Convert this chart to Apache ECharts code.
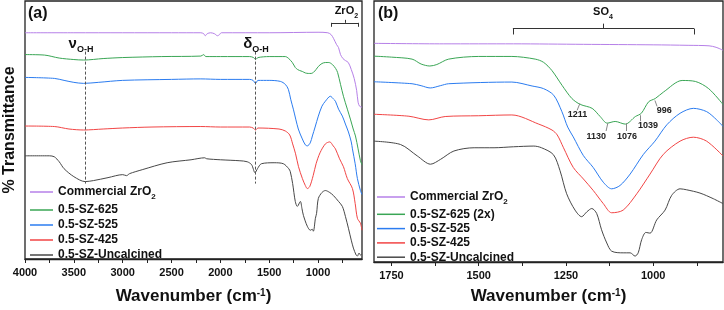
<!DOCTYPE html>
<html>
<head>
<meta charset="utf-8">
<title>FTIR spectra</title>
<script src="https://cdn.jsdelivr.net/npm/echarts@6/dist/echarts.min.js"></script>
<style>
  html, body { margin: 0; padding: 0; background: #fff; }
  #chart { width: 724px; height: 310px; }
</style>
</head>
<body>
<div id="chart"></div>
<script>
// [wavenumber (cm-1), transmittance (offset, arb. units)]
// panel (a): 4000 - 550 cm-1
const leftZrO2 = [[4000, 228], [3500, 228], [3000, 228], [2500, 228], [2200, 228], [2170, 227], [2155, 225], [2135, 227], [2100, 228], [2060, 227], [2030, 225], [2010, 226], [1990, 228], [1500, 228], [1000, 228.5], [900, 228], [865, 226], [840, 222], [810, 216], [790, 213], [770, 206], [745, 202], [720, 200], [690, 198], [660, 191], [630, 182], [605, 170], [590, 158], [575, 154], [550, 153]]
const left625 = [[4000, 206], [3800, 205.5], [3650, 202.5], [3500, 201], [3400, 200.5], [3200, 202], [3000, 203], [2600, 204], [2200, 204.5], [2170, 206], [2150, 204], [2000, 204], [1700, 204], [1660, 203], [1640, 201], [1615, 203], [1500, 204], [1400, 204], [1335, 204], [1300, 202], [1263, 198], [1233, 193], [1210, 191], [1190, 190], [1161, 189], [1130, 187.5], [1100, 187], [1070, 187], [1048, 188], [1020, 191], [997, 194], [960, 197], [925, 198], [890, 198], [853, 196], [820, 192], [800, 188], [770, 176], [740, 164], [700, 151], [669, 141], [640, 131], [617, 124], [590, 111], [566, 99], [550, 95]]
const left525 = [[4000, 183], [3700, 182], [3600, 180], [3500, 178], [3400, 177], [3250, 178], [3000, 180], [2500, 181], [2200, 181.5], [2000, 181], [1700, 181], [1665, 180], [1640, 177], [1615, 180], [1500, 180], [1386, 179], [1335, 176], [1304, 171], [1280, 161], [1253, 151], [1202, 131], [1161, 121], [1130, 115], [1110, 114], [1080, 117], [1058, 124], [1030, 133], [997, 144], [960, 154], [925, 159], [874, 164], [840, 161], [822, 159], [790, 151], [751, 144], [720, 136], [689, 128], [660, 118], [648, 111], [620, 96], [597, 81], [566, 69], [550, 65]]
const left425 = [[4000, 134], [3700, 133.5], [3550, 131], [3400, 130], [3200, 131], [3000, 132], [2700, 133], [2200, 133.5], [2000, 133], [1700, 133], [1665, 132], [1640, 130], [1615, 132], [1400, 131], [1335, 129], [1290, 125], [1260, 116], [1230, 106], [1200, 93], [1160, 81], [1130, 74], [1110, 71], [1085, 73], [1050, 84], [1020, 96], [980, 107], [925, 116], [880, 118], [845, 114], [822, 111], [780, 101], [740, 93], [700, 81], [648, 71], [620, 56], [597, 41], [566, 36], [550, 29]]
const leftUncal = [[4000, 104], [3750, 104], [3700, 103], [3650, 98], [3600, 91], [3500, 83], [3385, 78], [3300, 79], [3150, 82], [3000, 85], [2960, 84], [2930, 86], [2800, 90], [2545, 97], [2300, 100], [2160, 102], [2140, 101], [2000, 100], [1800, 99], [1725, 98], [1680, 95], [1645, 87], [1620, 91], [1580, 96], [1450, 97], [1355, 96], [1300, 91], [1284, 88], [1260, 76], [1233, 58], [1212, 53], [1181, 58], [1165, 51], [1150, 44], [1110, 33], [1079, 29], [1060, 30], [1048, 28], [1027, 41], [1015, 46], [997, 61], [960, 67], [925, 69], [880, 67], [843, 64], [790, 58], [751, 53], [720, 43], [689, 31], [660, 19], [638, 11], [610, 4], [597, 3], [580, 6], [566, 4], [550, 5]]

// panel (b): 1800 - 800 cm-1
const rightZrO2 = [[1800, 222], [1600, 221.5], [1400, 221.5], [1200, 221], [1000, 220.5], [900, 220], [840, 219.5], [820, 218], [800, 215]]
const right625 = [[1800, 209], [1750, 208], [1691, 206], [1665, 201], [1640, 199], [1620, 200.5], [1586, 206], [1500, 208.7], [1405, 208.7], [1338, 206], [1314, 202.7], [1290, 194.3], [1261, 179.3], [1233, 166], [1209, 160], [1175, 156], [1152, 147.7], [1132, 141], [1109, 142.7], [1080, 140], [1051, 147.7], [1034, 151], [1013, 162.7], [994, 166], [970, 172.7], [917, 184.3], [879, 183.3], [841, 176], [800, 160]]
const right525 = [[1800, 183], [1691, 181], [1665, 179], [1639, 176.7], [1610, 179], [1586, 181], [1405, 182.7], [1347, 178.7], [1314, 176], [1285, 169.3], [1262, 153], [1245, 137], [1229, 127], [1200, 108], [1172, 96], [1143, 81], [1119, 74.3], [1095, 77.7], [1066, 89.3], [1028, 109.3], [995, 122.7], [961, 139.3], [923, 151], [885, 156], [847, 152.7], [818, 144.3], [800, 137.7]]
const right425 = [[1800, 150], [1700, 148], [1643, 144.3], [1596, 147.7], [1500, 148.5], [1405, 149.3], [1328, 140], [1290, 134], [1275, 129], [1257, 116], [1229, 96], [1200, 84.3], [1172, 72.7], [1143, 59.3], [1119, 50], [1086, 52.7], [1047, 69.3], [1009, 89.3], [971, 109.3], [923, 122.7], [885, 126.7], [847, 122.7], [800, 107.7]]
const rightUncal = [[1800, 122.7], [1724, 119.3], [1676, 107.7], [1638, 99.3], [1609, 104.3], [1571, 112.7], [1513, 116], [1456, 116], [1400, 117], [1342, 117.7], [1320, 116], [1286, 109], [1267, 92.7], [1248, 69.3], [1224, 52.7], [1205, 46], [1190, 51], [1176, 54.3], [1162, 49.3], [1148, 32.7], [1133, 19.3], [1119, 11], [1086, 9.3], [1066, 9.3], [1052, 6], [1043, 9.3], [1033, 22.7], [1021, 30], [1009, 29.3], [990, 42.7], [966, 52.7], [947, 67.7], [923, 74.3], [904, 73.3], [866, 70], [828, 64.3], [800, 59.3]]

const leftNames = ['Commercial ZrO2', '0.5-SZ-625', '0.5-SZ-525', '0.5-SZ-425', '0.5-SZ-Uncalcined']
const rightNames = ['Commercial ZrO2', '0.5-SZ-625 (2x)', '0.5-SZ-525', '0.5-SZ-425', '0.5-SZ-Uncalcined']
const colors = ['#b680e8', '#3aa655', '#2b7cf0', '#f24545', '#484848']

const leftTickLabels = [4000, 3500, 3000, 2500, 2000, 1500, 1000]
const leftTicks = [4000, 3750, 3500, 3250, 3000, 2750, 2500, 2250, 2000, 1750, 1500, 1250, 1000, 750]
const rightTickLabels = [1750, 1500, 1250, 1000]
const rightTicks = [1750, 1625, 1500, 1375, 1250, 1125, 1000, 875]

// marked bands in panel (b)
const sulfateBands = [1211, 1130, 1076, 1039, 996]

const font = 'Liberation Sans, Arial, sans-serif'
const ink = '#111'

function rich (size, sub) {
  return {
    t: { fontSize: size, fontWeight: 'bold', fontFamily: font, color: ink },
    s: { fontSize: sub, fontWeight: 'bold', fontFamily: font, color: ink, verticalAlign: 'bottom', padding: [0, 0, -3, 0] },
    sup: { fontSize: sub, fontWeight: 'bold', fontFamily: font, color: ink, verticalAlign: 'top' }
  }
}

function legendText (name) {
  if (name === 'Commercial ZrO2') return '{t|Commercial ZrO}{s|2}'
  return '{t|' + name + '}'
}

function xAxisOf (grid, min, max, labels, ticks, gap) {
  return {
    type: 'value',
    gridIndex: grid,
    min: min,
    max: max,
    inverse: true,
    name: '{t|Wavenumber (cm}{sup|-1}{t|)}',
    nameLocation: 'middle',
    nameGap: gap,
    nameTextStyle: { rich: rich(17, 10) },
    axisLine: { lineStyle: { color: '#222', width: 1.3 } },
    axisTick: { customValues: ticks, length: 4, lineStyle: { color: '#222', width: 1 } },
    axisLabel: {
      customValues: labels,
      margin: 8,
      fontSize: 11,
      fontWeight: 'bold',
      color: ink,
      fontFamily: font,
      formatter: v => String(v)
    },
    splitLine: { show: false }
  }
}

function yAxisOf (grid, max, name) {
  return {
    type: 'value',
    gridIndex: grid,
    min: 0,
    max: max,
    name: name,
    nameLocation: 'middle',
    nameGap: 7,
    nameTextStyle: { fontSize: 16, fontWeight: 'bold', fontFamily: font, color: ink },
    axisLine: { show: false },
    axisTick: { show: false },
    axisLabel: { show: false },
    splitLine: { show: false }
  }
}

function line (name, data, color, idx) {
  return {
    name: name,
    type: 'line',
    data: data,
    xAxisIndex: idx,
    yAxisIndex: idx,
    symbol: 'none',
    smooth: 0.3,
    lineStyle: { color: color, width: 1 },
    itemStyle: { color: color },
    z: 3
  }
}

function seg (a, b, style) {
  const start = { coord: a }
  if (style) start.lineStyle = style
  return [start, { coord: b }]
}

function textMark (coord, text, size, sub) {
  return { coord: coord, label: { formatter: text, rich: rich(size, sub) } }
}

const markPointBase = {
  symbol: 'rect',
  symbolSize: 1,
  silent: true,
  animation: false,
  itemStyle: { color: 'rgba(0,0,0,0)' },
  label: { show: true, position: 'inside', color: ink }
}

const dashed = { type: [3, 2], color: '#555', width: 1 }

const leftSeries = [leftZrO2, left625, left525, left425, leftUncal].map((d, i) => line(leftNames[i], d, colors[i], 0))
const rightSeries = [rightZrO2, right625, right525, right425, rightUncal].map((d, i) => line(rightNames[i], d, colors[i], 1))

// guides, ZrO2 bracket and labels in panel (a)
leftSeries[0].markLine = {
  silent: true,
  animation: false,
  symbol: ['none', 'none'],
  label: { show: false },
  lineStyle: { color: '#333', width: 1, type: 'solid' },
  data: [
    seg([3385, 209], [3385, 76], dashed),
    seg([1640, 209], [1640, 76], dashed),
    seg([863, 234], [863, 238]),
    seg([863, 238], [587, 238]),
    seg([587, 238], [587, 234]),
    seg([720, 238], [720, 241])
  ]
}
leftSeries[0].markPoint = Object.assign({}, markPointBase, {
  data: [
    textMark([3427, 217], '{g|ν}{s|O-H}', 11, 9),
    textMark([1635, 217], '{g|δ}{s|O-H}', 11, 9),
    textMark([710, 250], '{t|ZrO}{s|2}', 11, 7)
  ]
})
leftSeries[0].markPoint.data.forEach(d => {
  d.label.rich.g = { fontSize: 15, fontWeight: 'bold', fontFamily: font, color: ink }
})

// SO4 bracket and band labels in panel (b)
rightSeries[1].markLine = {
  silent: true,
  animation: false,
  symbol: ['none', 'none'],
  label: { show: false },
  lineStyle: { color: '#333', width: 1, type: 'solid' },
  data: [
    seg([1402, 231], [1402, 237]),
    seg([1402, 237], [883, 237]),
    seg([883, 237], [883, 231]),
    seg([1144, 237], [1144, 242]),
    seg([1210, 161], [1218, 154], { color: '#888' }),
    seg([1130, 141], [1135, 133], { color: '#888' }),
    seg([1078, 141], [1078, 133], { color: '#888' }),
    seg([1038, 149], [1038, 143], { color: '#888' }),
    seg([995, 164], [989, 158], { color: '#888' })
  ]
}
const bandLabelAt = [[1217, 150], [1163, 127], [1075, 127], [1015, 138.5], [968, 153.5]]
rightSeries[1].markPoint = Object.assign({}, markPointBase, {
  data: sulfateBands.map((b, i) => textMark(bandLabelAt[i], '{n|' + b + '}', 9, 7))
    .concat([textMark([1144, 254], '{t|SO}{s|4}', 11, 7)])
})
rightSeries[1].markPoint.data.forEach(d => {
  d.label.rich.n = { fontSize: 9, fontWeight: 'bold', fontFamily: font, color: '#222' }
})

const legendBase = {
  orient: 'vertical',
  icon: 'rect',
  itemHeight: 1.5,
  formatter: legendText,
  selectedMode: false,
  textStyle: { rich: rich(12, 8) }
}

const chart = echarts.init(document.getElementById('chart'))

chart.setOption({
  animation: false,
  backgroundColor: '#fff',
  title: [
    { text: '(a)', left: 28, top: 6, padding: 0, textStyle: { fontSize: 16, fontWeight: 'bold', fontFamily: font, color: ink } },
    { text: '(b)', left: 378, top: 6, padding: 0, textStyle: { fontSize: 16, fontWeight: 'bold', fontFamily: font, color: ink } }
  ],
  legend: [
    Object.assign({}, legendBase, { data: leftNames, left: 25, top: 181, itemWidth: 23, itemGap: 3 }),
    Object.assign({}, legendBase, { data: rightNames, left: 372, top: 186, itemWidth: 28, itemGap: 2.3 })
  ],
  grid: [
    { left: 25, top: 1, width: 337, height: 260, show: true, borderColor: '#222', borderWidth: 1.3 },
    { left: 374, top: 1, width: 349, height: 265, show: true, borderColor: '#222', borderWidth: 1.3 }
  ],
  xAxis: [
    xAxisOf(0, 550, 4000, leftTickLabels, leftTicks, 29),
    xAxisOf(1, 800, 1800, rightTickLabels, rightTicks, 26)
  ],
  yAxis: [
    yAxisOf(0, 260, '% Transmittance'),
    yAxisOf(1, 265, '')
  ],
  series: leftSeries.concat(rightSeries)
})
</script>
</body>
</html>
